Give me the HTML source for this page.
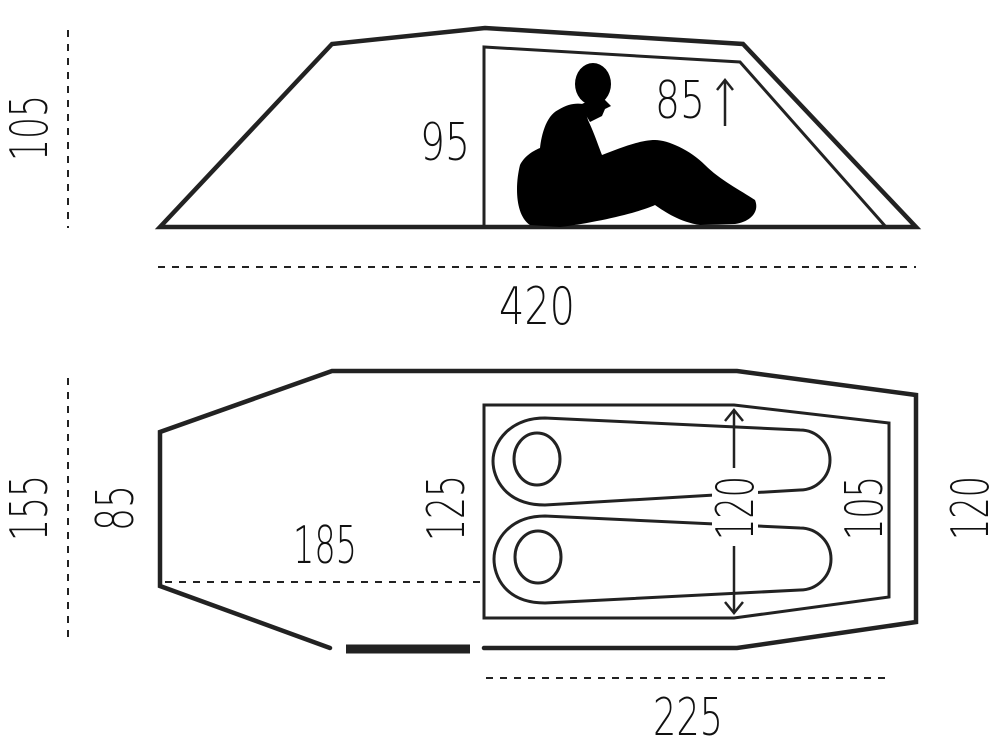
<!DOCTYPE html>
<html><head><style>
html,body{margin:0;padding:0;background:#fff;}
svg{display:block;}
text{font-family:"DejaVu Sans","Liberation Sans",sans-serif;font-weight:200;font-size:52px;fill:#111;}
</style></head><body>
<svg width="1000" height="751" viewBox="0 0 1000 751" xmlns="http://www.w3.org/2000/svg">
<g fill="none" stroke="#222" stroke-linejoin="miter">
 <path d="M160,227 L332,44 L485,28 L743,44 L916,227 Z" stroke-width="4.5"/>
 <path d="M484,227 L484,47 L740,62 L886,227" stroke-width="3"/>
 <line x1="68" y1="30" x2="68" y2="228" stroke-width="2" stroke-dasharray="7,7"/>
 <line x1="158" y1="267" x2="916" y2="267" stroke-width="2" stroke-dasharray="7,7"/>
 <line x1="725" y1="80" x2="725" y2="126" stroke-width="2.5"/>
 <path d="M717,90 L725,80 L733,90" stroke-width="2.5"/>
 <path d="M330,648 L160,586 L160,432 L332,371 L737,371 L916,395 L916,622 L737,648 L484,648" stroke-width="4.5" stroke-linecap="round"/>
 <line x1="346" y1="649" x2="470" y2="649" stroke-width="9"/>
 <path d="M484,405 L734,405 L889,423 L889,597 L734,618 L484,618 Z" stroke-width="3"/>
 <path d="M545,418 L800,430 A30,30 0 0 1 800,490 L545,505 C505,505 493,478 493,461 C493,442 510,418 545,418 Z" stroke-width="3"/>
 <ellipse cx="537" cy="459" rx="23" ry="26" stroke-width="3"/>
 <path d="M545,516 L800,528 A31,31 0 0 1 800,590 L545,603 C505,603 494,576 494,559 C494,540 510,516 545,516 Z" stroke-width="3"/>
 <ellipse cx="538" cy="557" rx="23" ry="26" stroke-width="3"/>
 <rect x="712" y="468" width="46" height="96" fill="#fff" stroke="none"/>
 <line x1="734" y1="410" x2="734" y2="468" stroke-width="2.5"/>
 <line x1="734" y1="546" x2="734" y2="613" stroke-width="2.5"/>
 <path d="M725,421 L734,410 L743,421 M725,602 L734,613 L743,602" stroke-width="2.5"/>
 <line x1="68" y1="378" x2="68" y2="640" stroke-width="2" stroke-dasharray="7,7"/>
 <line x1="165" y1="582" x2="484" y2="582" stroke-width="2" stroke-dasharray="7,7"/>
 <line x1="486" y1="678" x2="890" y2="678" stroke-width="2" stroke-dasharray="7,7"/>
</g>
<g fill="#000">
 <ellipse cx="593" cy="84" rx="18" ry="21"/>
 <path d="M600,95 L611,106 L605,109 L602,116 L590,122 L580,105 Z"/>
 <path d="M583,104 L588,120 C595,135 598,145 602,155 C620,148 640,140 655,140 C668,140 690,150 705,165 C720,180 740,190 755,200 C760,212 750,222 735,224 L700,225 C680,222 665,212 655,205 C640,212 600,222 560,227 L530,225 C515,215 515,185 520,165 C525,155 535,150 540,148 C542,130 548,115 558,110 C568,104 575,103 583,104 Z"/>
</g>
<text x="0" y="0" transform="translate(47,128) rotate(-90)" text-anchor="middle" textLength="66" lengthAdjust="spacingAndGlyphs">105</text>
<text x="445" y="160" text-anchor="middle" textLength="50" lengthAdjust="spacingAndGlyphs">95</text>
<text x="680" y="118" text-anchor="middle" textLength="50" lengthAdjust="spacingAndGlyphs">85</text>
<text x="537" y="324" text-anchor="middle" textLength="76" lengthAdjust="spacingAndGlyphs">420</text>
<text x="0" y="0" transform="translate(47,508) rotate(-90)" text-anchor="middle" textLength="66" lengthAdjust="spacingAndGlyphs">155</text>
<text x="0" y="0" transform="translate(133,508) rotate(-90)" text-anchor="middle" textLength="46" lengthAdjust="spacingAndGlyphs">85</text>
<text x="325" y="563" text-anchor="middle" textLength="64" lengthAdjust="spacingAndGlyphs">185</text>
<text x="0" y="0" transform="translate(464,508) rotate(-90)" text-anchor="middle" textLength="66" lengthAdjust="spacingAndGlyphs">125</text>
<text x="0" y="0" transform="translate(753,508) rotate(-90)" text-anchor="middle" textLength="64" lengthAdjust="spacingAndGlyphs">120</text>
<text x="0" y="0" transform="translate(882,508) rotate(-90)" text-anchor="middle" textLength="64" lengthAdjust="spacingAndGlyphs">105</text>
<text x="0" y="0" transform="translate(988,508) rotate(-90)" text-anchor="middle" textLength="64" lengthAdjust="spacingAndGlyphs">120</text>
<text x="688" y="735" text-anchor="middle" textLength="70" lengthAdjust="spacingAndGlyphs">225</text>
</svg>
</body></html>
